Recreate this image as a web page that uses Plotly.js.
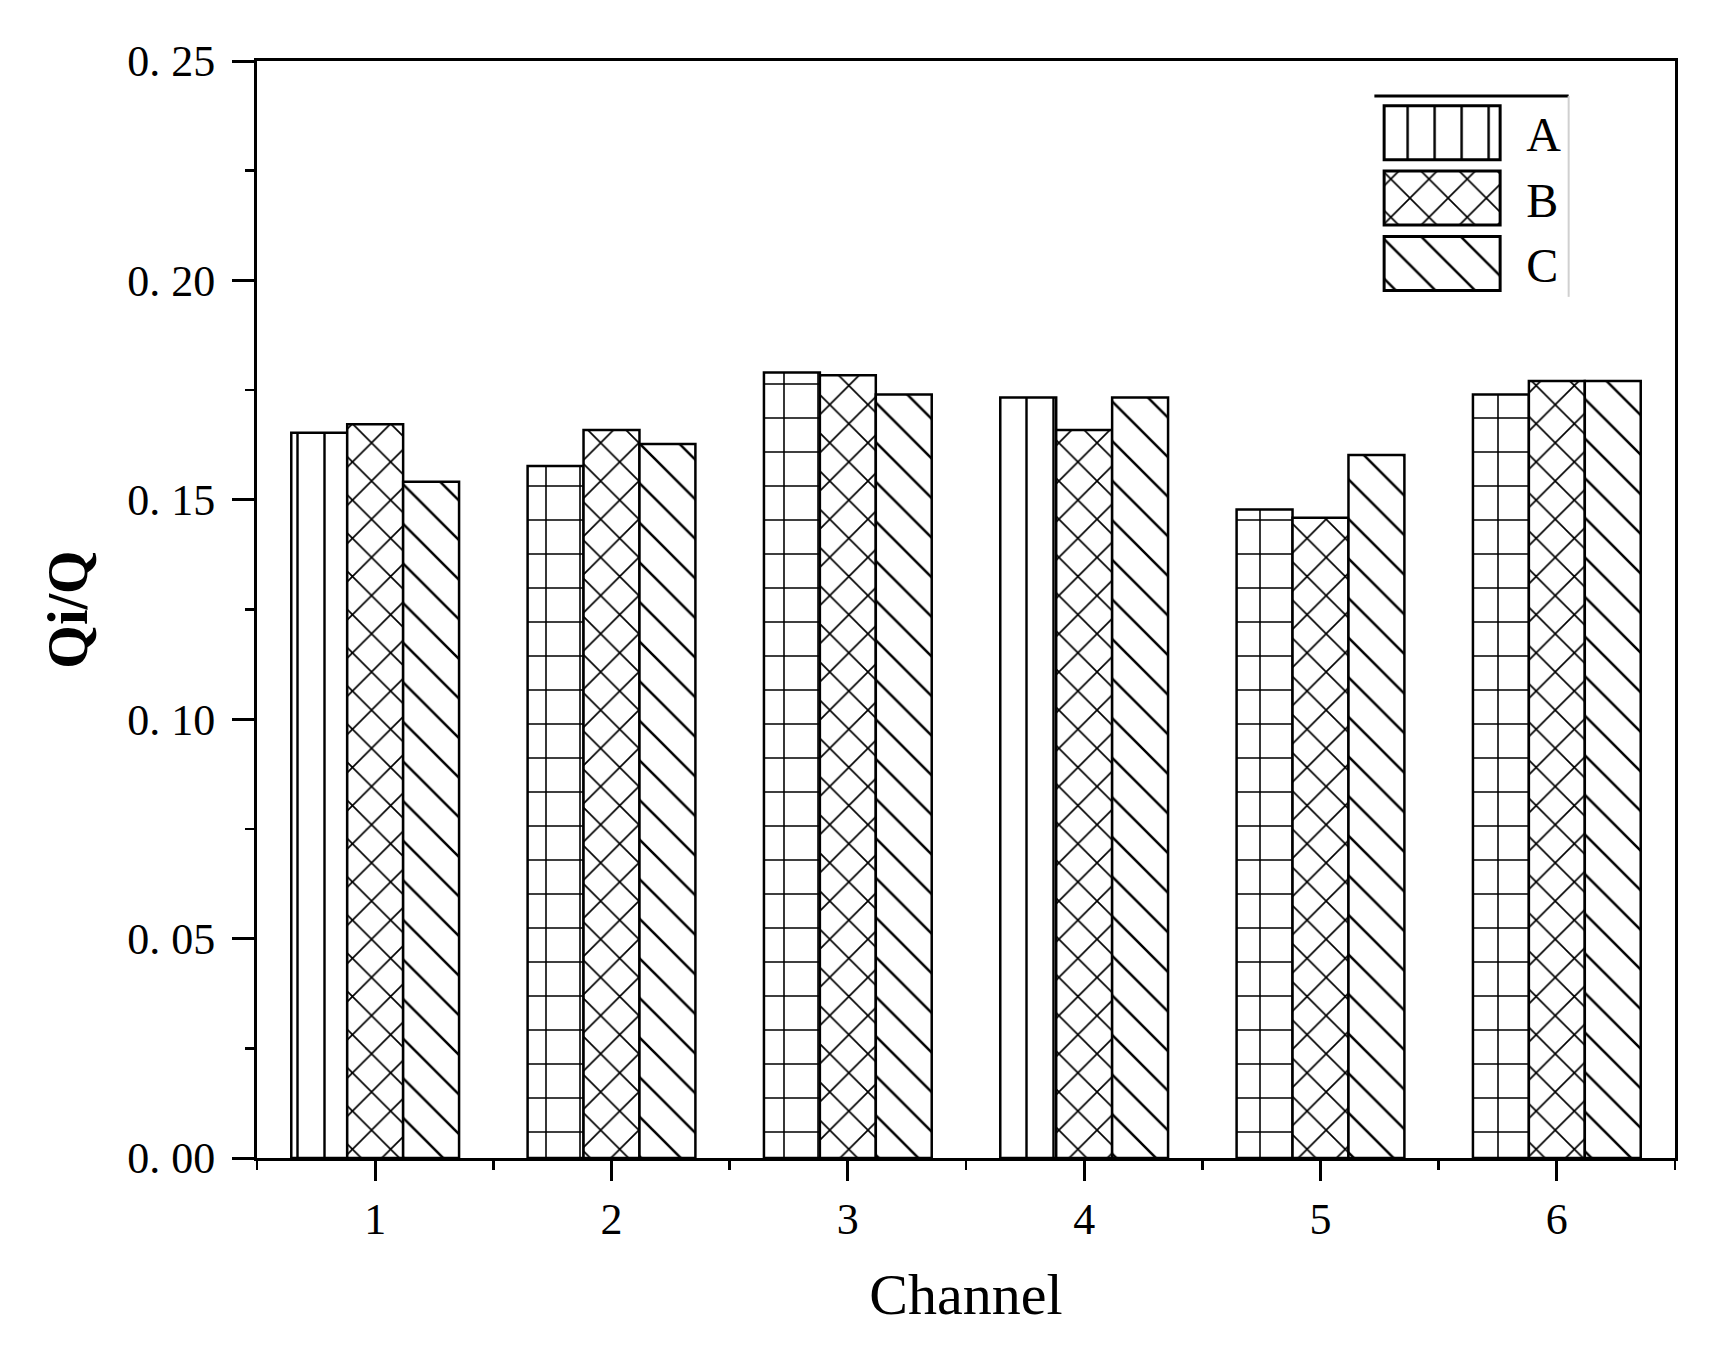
<!DOCTYPE html>
<html>
<head>
<meta charset="utf-8">
<script src="https://cdn.plot.ly/plotly-3.0.1.min.js"></script>
<style>
  html, body { margin: 0; padding: 0; background: #fff; }
  #chart { width: 1728px; height: 1349px; }
</style>
</head>
<body>
<div id="chart"></div>
<script>
// channel flow share Qi/Q for three cases
let channels = [1, 2, 3, 4, 5, 6];
let caseA = [0.1653, 0.1577, 0.1790, 0.1733, 0.1478, 0.1740];
let caseB = [0.1672, 0.1659, 0.1784, 0.1659, 0.1459, 0.1771];
let caseC = [0.1541, 0.1627, 0.1740, 0.1733, 0.1602, 0.1771];
let seriesNames = ["A", "B", "C"];

let yTickVals = [0, 0.05, 0.10, 0.15, 0.20, 0.25];
let yTickText = ["0. 00", "0. 05", "0. 10", "0. 15", "0. 20", "0. 25"];
let yMinorVals = [0.025, 0.075, 0.125, 0.175, 0.225];
let xMinorVals = [0.5, 1.5, 2.5, 3.5, 4.5, 5.5, 6.5];

let serif = "Liberation Serif, Times New Roman, serif";
let black = "#000000";

function barTrace(name, values, shape, size, solidity) {
  return {
    type: "bar",
    name: name,
    x: channels,
    y: values,
    marker: {
      color: "#ffffff",
      line: { color: black, width: 2.5 },
      pattern: {
        shape: shape, fgcolor: black, fgopacity: 1, bgcolor: "#ffffff",
        size: size, solidity: solidity, fillmode: "overlay"
      }
    },
    hoverinfo: "x+y+name"
  };
}

// the A bars carry a mixed vertical / grid hatch in the source picture
let data = [
  barTrace(seriesNames[0], caseA, ["|", "+", "+", "|", "+", "+"], [27, 34, 34, 27, 34, 34], [0.09, 0.09, 0.09, 0.09, 0.09, 0.09]),
  barTrace(seriesNames[1], caseB, "x", 27, 0.12),
  barTrace(seriesNames[2], caseC, "\\", 28, 0.09)
];

let layout = {
  width: 1728,
  height: 1349,
  margin: { l: 257, r: 53, t: 61, b: 191 },
  paper_bgcolor: "#ffffff",
  plot_bgcolor: "#ffffff",
  font: { family: serif, color: black, size: 40 },
  barmode: "group",
  bargap: 0.29,
  bargroupgap: 0,
  showlegend: true,
  legend: {
    x: 0.785, y: 0.969, xanchor: "left", yanchor: "top",
    bgcolor: "rgba(255,255,255,0)",
    font: { family: serif, size: 48, color: black },
    itemwidth: 146,
    tracegroupgap: 0
  },
  xaxis: {
    range: [0.5, 6.5],
    tickmode: "array",
    tickvals: channels,
    ticks: "outside",
    ticklen: 20,
    tickwidth: 3,
    tickcolor: black,
    ticklabelstandoff: 0,
    tickfont: { family: serif, size: 44, color: black },
    showline: true,
    linecolor: black,
    linewidth: 3,
    mirror: true,
    showgrid: false,
    zeroline: false,
    minor: { tickmode: "array", tickvals: xMinorVals, ticks: "outside", ticklen: 9, tickwidth: 2.5, tickcolor: black },
    title: { text: "Channel", font: { family: serif, size: 58, color: black }, standoff: 31 }
  },
  yaxis: {
    range: [0, 0.25],
    tickmode: "array",
    tickvals: yTickVals,
    ticktext: yTickText,
    ticks: "outside",
    ticklen: 22,
    tickwidth: 3,
    tickcolor: black,
    ticklabelstandoff: 8,
    tickfont: { family: serif, size: 44, color: black },
    showline: true,
    linecolor: black,
    linewidth: 3,
    mirror: true,
    showgrid: false,
    zeroline: false,
    minor: { tickmode: "array", tickvals: yMinorVals, ticks: "outside", ticklen: 9, tickwidth: 2.5, tickcolor: black },
    title: { text: "<b>Qi/Q</b>", font: { family: serif, size: 56, color: black }, standoff: 22 }
  },
  shapes: [
    { type: "line", xref: "paper", yref: "paper", x0: 0.788, x1: 0.925, y0: 0.968, y1: 0.968, line: { color: black, width: 3 } },
    { type: "line", xref: "paper", yref: "paper", x0: 0.925, x1: 0.925, y0: 0.968, y1: 0.785, line: { color: "#d0d0d0", width: 2 } }
  ]
};

let chartDiv = document.getElementById("chart");

// blow the legend swatches up to the big boxes of the original figure,
// and give them the same hatch tiles as the bars
function bigSwatches() {
  let barTraces = chartDiv.querySelectorAll(".barlayer .trace");
  let paths = chartDiv.querySelectorAll(".legend .traces .legendpoints path");
  paths.forEach(function(p, i) {
    p.setAttribute("d", "M-64,-27H52V27H-64Z");
    p.style.strokeWidth = "3px";
    p.style.stroke = black;
    if (barTraces[i]) {
      let barPath = barTraces[i].querySelector(".point path");
      if (barPath && barPath.style.fill) p.style.fill = barPath.style.fill;
    }
  });
}

Plotly.newPlot(chartDiv, data, layout, { displayModeBar: false, staticPlot: true }).then(function() {
  bigSwatches();
  chartDiv.on("plotly_afterplot", bigSwatches);
});
</script>
</body>
</html>
